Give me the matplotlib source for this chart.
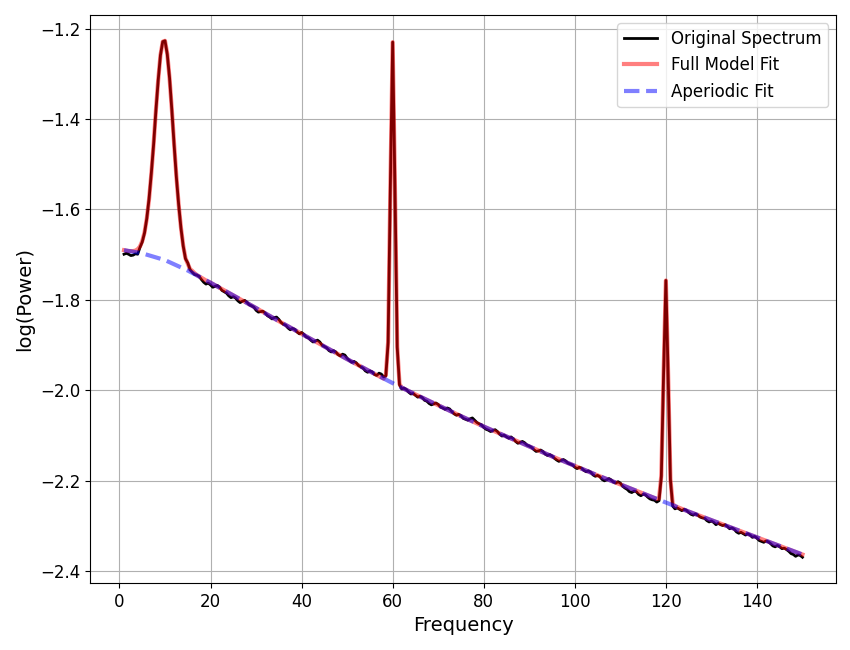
import matplotlib
matplotlib.use("Agg")
import matplotlib.pyplot as plt
import numpy as np

# Original power spectrum (log10 power), 1..150 Hz at 0.5 Hz resolution
orig_freqs = np.arange(1, 150.01, 0.5)
original_spectrum = [
    -1.699, -1.697, -1.699, -1.702, -1.701, -1.698, -1.699, -1.684, -1.672, -1.652,
    -1.620, -1.576, -1.519, -1.456, -1.382, -1.315, -1.259, -1.229, -1.227, -1.257,
    -1.309, -1.380, -1.457, -1.529, -1.589, -1.641, -1.681, -1.709, -1.718, -1.733,
    -1.739, -1.744, -1.745, -1.748, -1.755, -1.761, -1.765, -1.763, -1.767, -1.772,
    -1.770, -1.768, -1.772, -1.779, -1.782, -1.785, -1.791, -1.795, -1.793, -1.796,
    -1.802, -1.806, -1.803, -1.801, -1.805, -1.811, -1.813, -1.816, -1.823, -1.827,
    -1.826, -1.825, -1.829, -1.835, -1.838, -1.842, -1.839, -1.838, -1.843, -1.850,
    -1.854, -1.856, -1.862, -1.866, -1.863, -1.865, -1.871, -1.875, -1.872, -1.876,
    -1.882, -1.884, -1.889, -1.893, -1.891, -1.889, -1.893, -1.900, -1.903, -1.906,
    -1.912, -1.915, -1.912, -1.915, -1.921, -1.924, -1.920, -1.922, -1.929, -1.934,
    -1.938, -1.936, -1.939, -1.945, -1.948, -1.951, -1.957, -1.960, -1.957, -1.959,
    -1.965, -1.967, -1.962, -1.964, -1.970, -1.968, -1.894, -1.543, -1.230, -1.550,
    -1.905, -1.988, -1.997, -1.995, -1.998, -2.004, -2.008, -2.007, -2.011, -2.015,
    -2.013, -2.016, -2.022, -2.024, -2.029, -2.032, -2.030, -2.028, -2.031, -2.037,
    -2.039, -2.042, -2.039, -2.041, -2.047, -2.052, -2.055, -2.053, -2.056, -2.062,
    -2.064, -2.066, -2.063, -2.061, -2.066, -2.071, -2.074, -2.076, -2.082, -2.086,
    -2.088, -2.091, -2.089, -2.087, -2.091, -2.097, -2.101, -2.099, -2.103, -2.106,
    -2.103, -2.107, -2.113, -2.117, -2.115, -2.113, -2.116, -2.121, -2.123, -2.126,
    -2.131, -2.135, -2.134, -2.132, -2.135, -2.141, -2.144, -2.142, -2.145, -2.150,
    -2.154, -2.157, -2.155, -2.153, -2.156, -2.161, -2.163, -2.165, -2.170, -2.173,
    -2.170, -2.172, -2.177, -2.180, -2.178, -2.181, -2.187, -2.190, -2.188, -2.191,
    -2.197, -2.200, -2.198, -2.195, -2.198, -2.203, -2.205, -2.202, -2.205, -2.212,
    -2.216, -2.219, -2.224, -2.226, -2.223, -2.224, -2.230, -2.233, -2.230, -2.231,
    -2.236, -2.240, -2.242, -2.243, -2.247, -2.244, -2.191, -1.963, -1.757, -1.967,
    -2.198, -2.256, -2.262, -2.260, -2.263, -2.266, -2.263, -2.265, -2.270, -2.274,
    -2.276, -2.273, -2.276, -2.280, -2.282, -2.283, -2.288, -2.291, -2.289, -2.292,
    -2.297, -2.294, -2.297, -2.299, -2.297, -2.301, -2.306, -2.304, -2.307, -2.313,
    -2.316, -2.314, -2.317, -2.320, -2.317, -2.320, -2.325, -2.323, -2.327, -2.332,
    -2.334, -2.336, -2.333, -2.335, -2.339, -2.344, -2.346, -2.343, -2.346, -2.350,
    -2.349, -2.352, -2.356, -2.361, -2.363, -2.367, -2.364, -2.365, -2.369,
]

# Full model fit (aperiodic + peaks)
fit_freqs = np.concatenate([
    [1, 2], np.arange(3, 17.01, 0.5), [18, 19, 20, 25, 30, 35, 40, 45, 50, 55],
    np.arange(58, 62.01, 0.5), np.arange(65, 116, 5),
    np.arange(118, 122.01, 0.5), np.arange(125, 151, 5)])
full_model = [
    -1.690, -1.692,
    -1.692, -1.691, -1.688, -1.682, -1.670, -1.651, -1.620, -1.577, -1.521, -1.455,
    -1.381, -1.314, -1.259, -1.229, -1.227, -1.256, -1.310, -1.379, -1.455, -1.527,
    -1.590, -1.640, -1.680, -1.708, -1.720, -1.732, -1.736, -1.741, -1.745,
    -1.751, -1.757, -1.762, -1.790, -1.818, -1.847, -1.875, -1.903, -1.931, -1.958,
    -1.974, -1.966, -1.893, -1.544, -1.230, -1.549, -1.903, -1.986, -1.994,
    -2.009, -2.033, -2.057, -2.080, -2.102, -2.124, -2.146, -2.167, -2.188, -2.208,
    -2.228,
    -2.240, -2.239, -2.188, -1.961, -1.757, -1.965, -2.196, -2.251, -2.256,
    -2.268, -2.287, -2.306, -2.325, -2.344, -2.363,
]

# Aperiodic fit
ap_freqs = [1, 5, 10, 15, 20, 25, 30, 35, 40, 45, 50, 55, 60, 65, 70, 75, 80, 85,
            90, 95, 100, 105, 110, 115, 120, 125, 130, 135, 140, 145, 150]
aperiodic = [-1.690, -1.697, -1.712, -1.735, -1.762, -1.790, -1.818, -1.847, -1.875,
             -1.903, -1.931, -1.958, -1.984, -2.009, -2.033, -2.057, -2.080, -2.102,
             -2.124, -2.146, -2.167, -2.188, -2.208, -2.228, -2.248, -2.268, -2.287,
             -2.306, -2.325, -2.344, -2.363]

fig = plt.figure(figsize=(8.5, 6.5), dpi=100)
ax = fig.add_axes([0.106, 0.103, 0.878, 0.874])

ax.plot(orig_freqs, original_spectrum, color='black', lw=2, label='Original Spectrum')
ax.plot(fit_freqs, full_model, color='red', lw=3, alpha=0.5, label='Full Model Fit')
ax.plot(ap_freqs, aperiodic, color='blue', lw=3, alpha=0.5, linestyle='--',
        label='Aperiodic Fit')

ax.set_xlabel('Frequency', fontsize=14)
ax.set_ylabel('log(Power)', fontsize=14)
ax.tick_params(axis='both', labelsize=12)
ax.grid(True)
ax.legend(fontsize=12, loc='upper right')

fig.savefig('out.png', dpi=100)
